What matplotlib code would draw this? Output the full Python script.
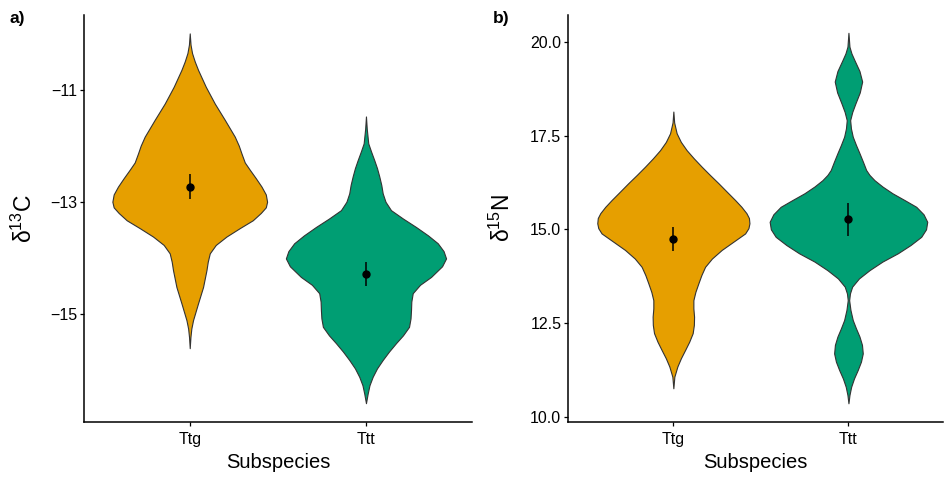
import numpy as np
import matplotlib.pyplot as plt

plt.rcParams['font.family'] = ['Liberation Sans', 'DejaVu Sans']
plt.rcParams['mathtext.default'] = 'regular'

groups = ['Ttg', 'Ttt']
colors = ['#E69F00', '#009E73']

# panel a: d13C, density profile (value, relative density)
c13_ttg_y = [-10.00, -10.20, -10.35, -10.50, -10.65, -10.95, -11.25, -11.54, -11.84,
             -12.00, -12.14, -12.30, -12.43, -12.58, -12.73, -12.87, -13.00, -13.10,
             -13.20, -13.33, -13.47, -13.62, -13.77, -13.92, -14.07, -14.22, -14.52,
             -14.81, -15.11, -15.26, -15.41, -15.61]
c13_ttg_d = [0, 0.8, 2.3, 5, 8.3, 16, 25, 35, 45, 49, 51.7, 55, 60, 66, 71.7, 76, 77.3,
             76, 71, 63, 50, 36.7, 26, 20, 18, 16.7, 13.3, 8.3, 3.3, 1.6, 0.7, 0]
c13_ttt_y = [-11.48, -11.70, -11.96, -12.10, -12.26, -12.40, -12.55, -12.70, -12.85,
             -13.00, -13.15, -13.30, -13.45, -13.60, -13.74, -13.88, -14.01, -14.15,
             -14.34, -14.48, -14.63, -14.78, -14.93, -15.08, -15.23, -15.38, -15.52,
             -15.67, -15.82, -15.97, -16.12, -16.27, -16.42, -16.59]
c13_ttt_d = [0, 0.8, 2.3, 5, 8.3, 11, 13.3, 15.3, 16.7, 19.5, 25, 37, 50, 62, 71.7,
             77.5, 80, 76, 65, 54, 46.7, 45.3, 45, 44.5, 43, 37, 30, 23, 16.7, 11, 6.7,
             3.5, 1.7, 0]
c13_mean = [-12.73, -14.29]
c13_lo = [-12.96, -14.50]
c13_hi = [-12.51, -14.07]

# panel b: d15N
n15_ttg_y = [18.14, 17.85, 17.56, 17.33, 17.11, 16.89, 16.67, 16.45, 16.23, 16.00,
             15.78, 15.60, 15.43, 15.30, 15.16, 15.03, 14.89, 14.67, 14.45, 14.22,
             14.00, 13.78, 13.56, 13.33, 13.11, 12.89, 12.67, 12.45, 12.23, 12.00,
             11.78, 11.56, 11.34, 11.07, 10.76]
n15_ttg_d = [0, 0.8, 3.3, 7.5, 13.3, 20.5, 28.3, 36.5, 45, 53.5, 61.7, 68, 73, 75.5,
             76, 75, 71.7, 60, 48.3, 38.5, 31.7, 28, 25, 22, 20, 20, 20.7, 20.5, 19.3,
             15.8, 11.7, 7.5, 4, 1, 0]
n15_ttt_y = [20.24, 19.87, 19.69, 19.51, 19.22, 18.94, 18.65, 18.36, 18.13, 17.91,
             17.69, 17.47, 17.25, 17.03, 16.80, 16.58, 16.45, 16.31, 16.14, 15.96,
             15.78, 15.60, 15.40, 15.20, 15.00, 14.80, 14.58, 14.36, 14.14, 13.91,
             13.69, 13.47, 13.29, 13.11, 12.85, 12.58, 12.36, 12.14, 11.92, 11.69,
             11.47, 11.25, 11.02, 10.80, 10.58, 10.36]
n15_ttt_d = [0, 1, 3, 6, 11, 13.7, 11.3, 7, 3.8, 1.7, 2.5, 4.3, 7.5, 11, 14.5, 17.7,
             21, 26, 34, 44, 56, 67.7, 75, 78.7, 77.5, 72.7, 62, 49.3, 34, 21, 10.5,
             3.7, 1.5, 0.7, 2, 4.3, 7.5, 11, 13.5, 14.3, 12.5, 9.3, 5.5, 2.7, 1, 0]
n15_mean = [14.74, 15.27]
n15_lo = [14.43, 14.82]
n15_hi = [15.06, 15.71]

W, H = 944, 479
fig = plt.figure(figsize=(W / 100, H / 100), dpi=100)


def panel(rect, profiles, widths, mean, lo, hi, ylim, xlim, yticks, ylabel, labx):
    ax = fig.add_axes([rect[0] / W, 1 - rect[3] / H, (rect[2] - rect[0]) / W,
                       (rect[3] - rect[1]) / H])
    stats = []
    for y, d in profiles:
        y = np.array(y)
        stats.append(dict(coords=y, vals=np.array(d, float), mean=y.mean(),
                          median=np.median(y), min=y.min(), max=y.max()))
    parts = ax.violin(stats, positions=[1, 2], widths=widths, showmeans=False,
                      showextrema=False, showmedians=False)
    for body, c in zip(parts['bodies'], colors):
        body.set_facecolor(c)
        body.set_edgecolor('#333333')
        body.set_linewidth(0.8)
        body.set_joinstyle('round')
        body.set_alpha(1)
    pos = np.array([1, 2])
    ax.vlines(pos, lo, hi, color='black', lw=1.1, zorder=3)
    ax.plot(pos, mean, 'o', color='black', ms=5, zorder=4)
    ax.set_xlim(*xlim)
    ax.set_ylim(*ylim)
    ax.set_xticks(pos)
    ax.set_xticklabels(groups)
    ax.set_yticks(yticks)
    if isinstance(yticks[0], float):
        ax.set_yticklabels(['%.1f' % t for t in yticks])
    else:
        ax.set_yticklabels([('%d' % t).replace('-', '\u2212') for t in yticks])
    for s in ['top', 'right']:
        ax.spines[s].set_visible(False)
    for s in ['left', 'bottom']:
        ax.spines[s].set_linewidth(1.1)
    ax.tick_params(length=3, width=0.9, pad=2, labelsize=11.5, colors='black')
    ax.tick_params(axis='x', pad=4.5)
    ax.set_xlabel('Subspecies', fontsize=14.5, labelpad=4)
    ax.set_ylabel(ylabel, fontsize=16.5)
    ax.yaxis.set_label_coords(labx, 0.5)
    return ax


panel((84, 15, 471.7, 421.7), [(c13_ttg_y, c13_ttg_d), (c13_ttt_y, c13_ttt_d)],
      [0.878, 0.909], c13_mean, c13_lo, c13_hi, (-16.92, -9.672), (0.4, 2.6),
      [-15, -13, -11], '\u03b4$^{13}$C', -0.121)
panel((568.3, 15, 943, 421.7), [(n15_ttg_y, n15_ttg_d), (n15_ttt_y, n15_ttt_d)],
      [0.869, 0.90], n15_mean, n15_lo, n15_hi, (9.869, 20.715), (0.4, 2.54),
      [10.0, 12.5, 15.0, 17.5, 20.0], '\u03b4$^{15}$N', -0.142)

fig.text(10 / W, 1 - 19 / H, 'a)', fontsize=12.5, fontweight='bold', va='center')
fig.text(493 / W, 1 - 18 / H, 'b)', fontsize=12.5, fontweight='bold', va='center')

fig.savefig('out.png', dpi=100)
